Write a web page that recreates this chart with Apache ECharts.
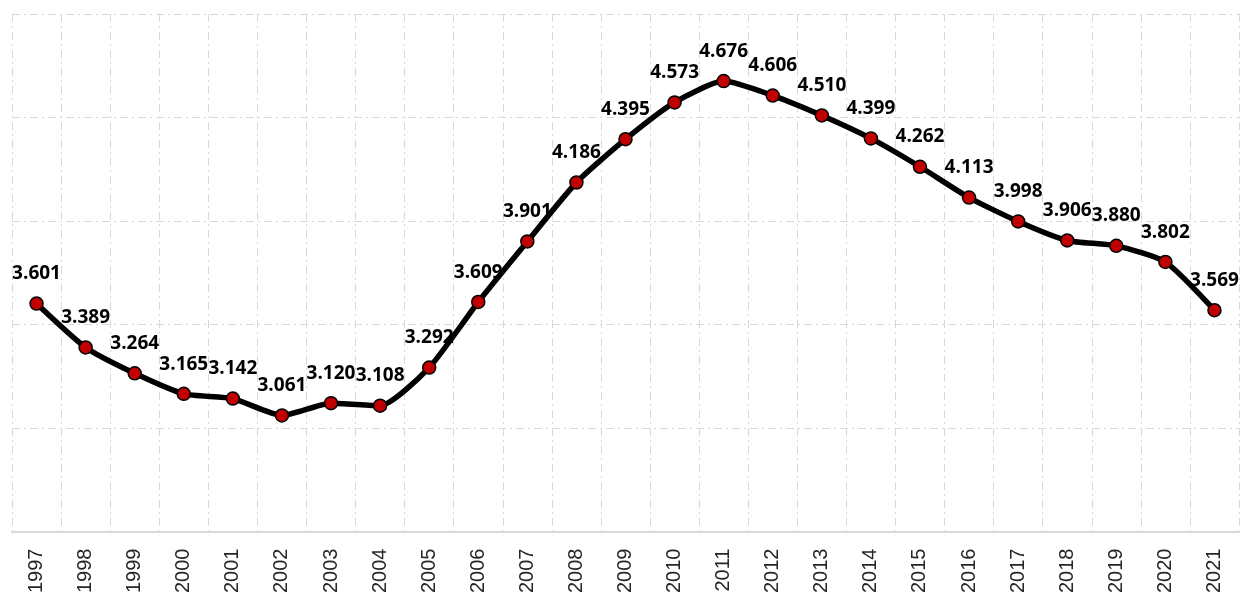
<!DOCTYPE html>
<html>
<head>
<meta charset="utf-8">
<script src="https://cdn.jsdelivr.net/npm/echarts@6/dist/echarts.min.js"></script>
<style>
  html, body { margin: 0; padding: 0; background: #fff; }
  #main { width: 1240px; height: 596px; }
</style>
</head>
<body>
<div id="main"></div>
<script>
// 年份
var years = ['1997', '1998', '1999', '2000', '2001', '2002', '2003', '2004', '2005', '2006',
  '2007', '2008', '2009', '2010', '2011', '2012', '2013', '2014', '2015', '2016',
  '2017', '2018', '2019', '2020', '2021'];
// 数值
var values = [3.601, 3.389, 3.264, 3.165, 3.142, 3.061, 3.120, 3.108, 3.292, 3.609,
  3.901, 4.186, 4.395, 4.573, 4.676, 4.606, 4.510, 4.399, 4.262, 4.113,
  3.998, 3.906, 3.880, 3.802, 3.569];

var myChart = echarts.init(document.getElementById('main'));
var gridLine = { color: '#d9d9d9', width: 1, type: [8, 4, 2, 4] };

var option = {
  animation: false,
  grid: { left: 12, right: 1, top: 14, bottom: 63 },
  xAxis: {
    type: 'category',
    data: years,
    boundaryGap: true,
    axisLine: { lineStyle: { color: '#d9d9d9', width: 2 } },
    axisTick: { show: false },
    axisLabel: {
      rotate: 90,
      margin: 17,
      fontSize: 20,
      color: '#262626',
      fontFamily: 'Liberation Sans'
    },
    splitLine: { show: true, lineStyle: gridLine }
  },
  yAxis: {
    type: 'value',
    min: 2.5,
    max: 5,
    interval: 0.5,
    axisLine: { show: false },
    axisTick: { show: false },
    axisLabel: { show: false },
    splitLine: { lineStyle: gridLine }
  },
  series: [{
    type: 'line',
    data: values,
    smooth: 0.2,
    symbol: 'circle',
    symbolSize: 13,
    lineStyle: { color: '#000', width: 5.5 },
    itemStyle: { color: '#c00000', borderColor: '#000', borderWidth: 1.5 },
    label: {
      show: true,
      position: 'top',
      distance: 13,
      color: '#000',
      fontWeight: 'bold',
      fontSize: 19,
      fontFamily: 'Open Sans',
      formatter: function (p) { return p.value.toFixed(3); }
    }
  }]
};

myChart.setOption(option);
</script>
</body>
</html>
